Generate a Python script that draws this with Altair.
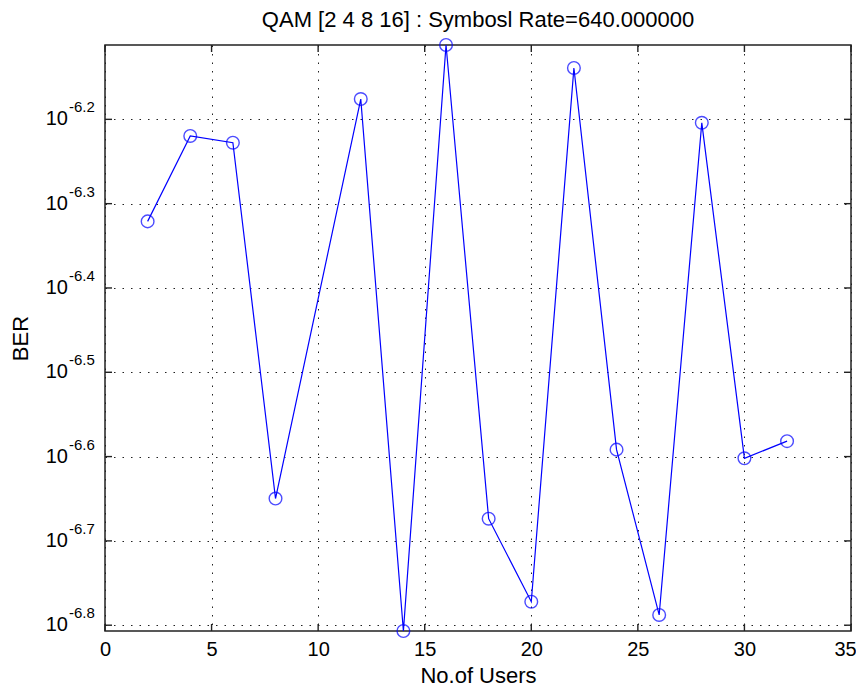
import altair as alt
import pandas as pd

# ---- data ----
users = [2, 4, 6, 8, 12, 14, 16, 18, 20, 22, 24, 26, 28, 30, 32]
ber = [4.775e-7, 6.03e-7, 5.92e-7, 2.24e-7, 6.67e-7, 1.56e-7, 7.73e-7,
       2.12e-7, 1.69e-7, 7.26e-7, 2.56e-7, 1.63e-7, 6.25e-7, 2.50e-7, 2.62e-7]

x_ticks = [0, 5, 10, 15, 20, 25, 30, 35]
y_exps = [-6.2, -6.3, -6.4, -6.5, -6.6, -6.7, -6.8]
y_exp_labels = ["-6.2", "-6.3", "-6.4", "-6.5", "-6.6", "-6.7", "-6.8"]

title_text = "QAM [2 4 8 16] : Symbosl Rate=640.000000"
FONT = "Liberation Sans"

df = pd.DataFrame({"users": users, "ber": ber})
ydf = pd.DataFrame({"val": [10 ** e for e in y_exps], "lab": y_exp_labels})
xdf = pd.DataFrame({"xv": x_ticks})

W, H = 746, 586
xs = alt.Scale(domain=[0, 35], nice=False, zero=False)
ys = alt.Scale(type="log", domain=[min(ber), max(ber)], nice=False, zero=False)

grid_kw = dict(grid=True, gridDash=[1.5, 7], gridColor="#222", gridOpacity=1,
               gridWidth=1, domain=False, ticks=False)

x_axis = alt.Axis(values=x_ticks, labelFontSize=20, labelFont=FONT,
                  labelColor="black", labelPadding=8, labelFlush=False,
                  labelOffset={"condition": {"test": "datum.value == 35",
                                             "value": -6}, "value": 0},
                  title="No.of Users", titleFontSize=22, titleFont=FONT,
                  titleFontWeight="normal", titleColor="black",
                  titleX=W / 2, titleY=44, titleBaseline="middle",
                  titleAlign="center", **grid_kw)
y_axis = alt.Axis(values=[10 ** e for e in y_exps], labels=False,
                  title="BER", titleFontSize=22, titleFont=FONT,
                  titleFontWeight="normal", titleColor="black",
                  titleX=-85, titleY=H / 2, titleAngle=270,
                  titleBaseline="middle", titleAlign="center", **grid_kw)


def X(field):
    return alt.X(field, scale=xs, axis=x_axis)


def Y(field):
    return alt.Y(field, scale=ys, axis=y_axis)


base = alt.Chart(df)
line = base.mark_line(color="#0000ff", strokeWidth=1.2).encode(
    x=X("users:Q"), y=Y("ber:Q"))
pts = base.mark_point(shape="circle", filled=False, color="#0000ff",
                      size=160, strokeWidth=1.4).encode(
    x=X("users:Q"), y=Y("ber:Q"))

tick_style = dict(color="#222", strokeWidth=1.4)
yt = alt.Chart(ydf)
xt = alt.Chart(xdf)
tick_left = yt.mark_rule(**tick_style).encode(
    y=Y("val:Q"), x=alt.value(0), x2=alt.value(7))
tick_right = yt.mark_rule(**tick_style).encode(
    y=Y("val:Q"), x=alt.value(W - 7), x2=alt.value(W))
tick_bottom = xt.mark_rule(**tick_style).encode(
    x=X("xv:Q"), y=alt.value(H - 7), y2=alt.value(H))
tick_top = xt.mark_rule(**tick_style).encode(
    x=X("xv:Q"), y=alt.value(0), y2=alt.value(7))

lab_base = yt.mark_text(text="10", align="right", baseline="middle",
                        fontSize=20, font=FONT, color="black").encode(
    y=Y("val:Q"), x=alt.value(-37))
lab_exp = yt.mark_text(align="left", baseline="middle", fontSize=15,
                       font=FONT, color="black", dy=-12).encode(
    y=Y("val:Q"), x=alt.value(-36), text="lab:N")

chart = alt.layer(
    line, pts, tick_left, tick_right, tick_bottom, tick_top, lab_base, lab_exp
).properties(
    width=W, height=H,
    title=alt.TitleParams(title_text, fontSize=22, font=FONT,
                          fontWeight="normal", color="black",
                          anchor="middle", offset=4),
    padding={"left": 97, "top": 37, "right": 5, "bottom": 55},
    autosize=alt.AutoSizeParams(type="none"),
    background="white",
).configure_view(stroke="#222", strokeWidth=1.5)

chart.save("out.html", embed_options={"renderer": "svg", "actions": False})
